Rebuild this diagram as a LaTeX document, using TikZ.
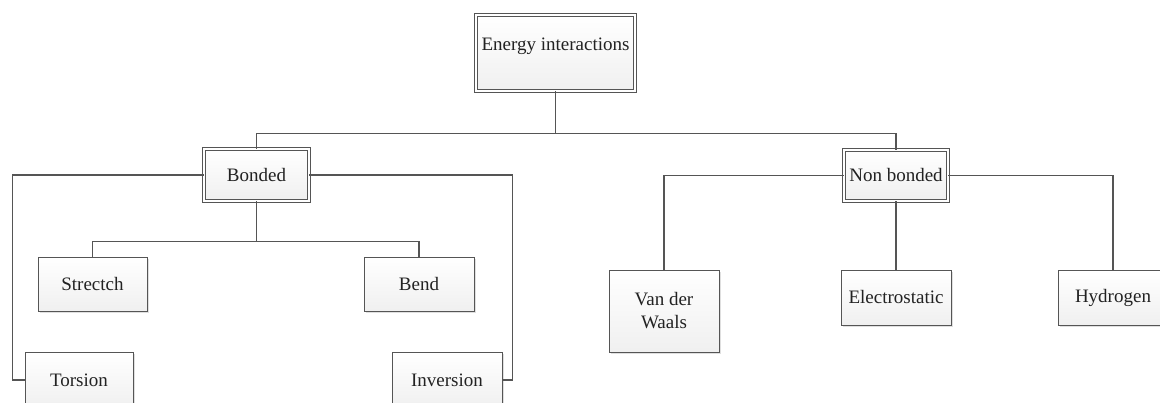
\documentclass[tikz,border=0pt]{standalone}
\usepackage{fontspec}
\setmainfont{Liberation Serif}
\usetikzlibrary{shadows}

\definecolor{linegray}{HTML}{555555}
\definecolor{textgray}{HTML}{222222}

\begin{document}
\begin{tikzpicture}[x=1pt, y=-1pt,
    every node/.style={font=\fontsize{19}{23}\selectfont, text=textgray, align=center},
    box/.style={draw=linegray, line width=0.9pt, top color=white, bottom color=gray!12,
      drop shadow={shadow xshift=2pt, shadow yshift=-2pt, fill=gray!25, opacity=1},
      inner sep=0pt},
    headbox/.style={box, double=white, double distance=1.6pt},
    link/.style={draw=linegray, line width=1.1pt}]
    \useasboundingbox (0,0) rectangle (1160,403);
    \clip (0,0) rectangle (1160,403);

    \node[headbox, minimum width=159pt, minimum height=76pt, text depth=17pt] (e) at (555.5,53) {Energy interactions};
    \node[headbox, minimum width=105pt, minimum height=52pt] (b) at (256.5,175) {Bonded};
    \node[headbox, minimum width=104pt, minimum height=51pt] (nb) at (896,175.5) {Non bonded};

    \node[box, minimum width=109pt, minimum height=54pt] (s) at (92.5,284) {Strectch};
    \node[box, minimum width=110pt, minimum height=54pt] (be) at (419,284) {Bend};
    \node[box, minimum width=108pt, minimum height=56pt] (t) at (79,380) {Torsion};
    \node[box, minimum width=110pt, minimum height=56pt] (i) at (447,380) {Inversion};

    \node[box, minimum width=110pt, minimum height=82pt] (v) at (664,311) {Van der\\Waals};
    \node[box, minimum width=110pt, minimum height=55pt] (el) at (896,297.5) {Electrostatic};
    \node[box, minimum width=110pt, minimum height=55pt] (h) at (1113,297.5) {Hydrogen};

    \draw[link] (e.south) -- ++(0,42) -| (b.north);
    \draw[link] (e.south) -- ++(0,42) -| (nb.north);

    \draw[link] (b.west) -- ++(-191,0) |- (t.west);
    \draw[link] (b.east) -- ++(203,0) |- (i.east);
    \draw[link] (b.south) -- ++(0,40) -| (s.north);
    \draw[link] (b.south) -- ++(0,40) -| (be.north);

    \draw[link] (nb.west) -| (v.north);
    \draw[link] (nb.south) -- (el.north);
    \draw[link] (nb.east) -| (h.north);
  \end{tikzpicture}
\end{document}
